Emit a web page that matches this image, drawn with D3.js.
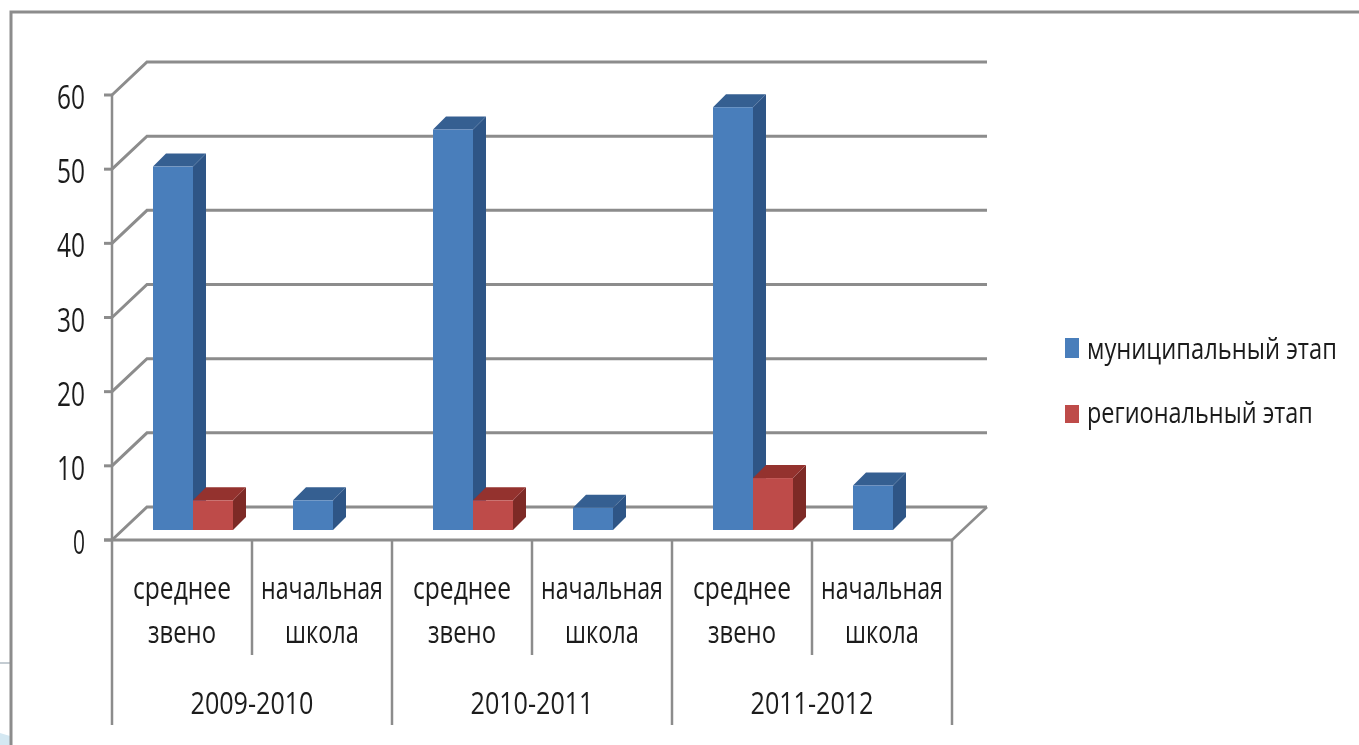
<!DOCTYPE html>
<html><head><meta charset="utf-8">
<script src="https://cdn.jsdelivr.net/npm/d3@7/dist/d3.min.js"></script>
<style>html,body{margin:0;padding:0;background:#fff;overflow:hidden}
text{font-family:"Open Sans",sans-serif;fill:#1a1a1a}</style></head>
<body><svg id="c" width="1359" height="745"></svg>
<script>
const years = ["2009-2010","2010-2011","2011-2012"];
const levels = ["среднее звено","начальная школа"];
const seriesNames = ["муниципальный этап","региональный этап"];
const municipal = [49,4,54,3,57,6];
const regional = [4,0,4,0,7,0];
const yTicks = [0,10,20,30,40,50,60];
const colors = ["#4a7ebb","#be4b48"], tops=["#365f91","#94302e"], sides=["#2f5486","#7d2a28"];

const svg=d3.select("#c");
const defs=svg.append("defs");
defs.append("filter").attr("id","soft").append("feGaussianBlur").attr("stdDeviation",0.55);
const root=svg.append("g").attr("filter","url(#soft)");
const grey="#8c8c8c";

// fit text horizontally to a measured width, anchored by "start", "middle" or "end"
function label(parent,str,x,y,size,width,anchor){
  const t=parent.append("text").attr("font-size",size).text(str);
  const sx=width/t.node().getComputedTextLength();
  t.attr("text-anchor",anchor).attr("transform",`translate(${x},${y}) scale(${sx},1)`);
  return t;
}

// page remnants and frame
root.append("path").attr("d","M0,745V733L10,736V745Z").attr("fill","#d4e8f2");
root.append("line").attr("x1",0).attr("x2",10).attr("y1",663).attr("y2",663).attr("stroke","#c4ccd2").attr("stroke-width",2);
root.append("path").attr("d","M11,745V12H1359").attr("fill","none").attr("stroke",grey).attr("stroke-width",3);

const y=d3.scaleLinear().domain([0,60]).range([540,95]);
const xGroup=d3.scaleBand().domain(years).range([112,952]);
const xCat=d3.scaleBand().domain(d3.range(6)).range([112,952]);
const dx=35, dy=-33, barLift=-10, bd=13;

// gridlines
const grid=root.append("g").attr("fill","none").attr("stroke",grey).attr("stroke-width",3);
yTicks.forEach(t=>{
  grid.append("path").attr("d",`M112,${y(t)}L${112+dx},${y(t)+dy}H987`);
});
grid.append("path").attr("d",`M952,540L987,${y(0)+dy}`).attr("stroke-width",2.5);

// y axis
const ax=root.append("g").attr("stroke",grey);
ax.append("line").attr("x1",112).attr("x2",112).attr("y1",y(60)).attr("y2",725).attr("stroke-width",2.5);
yTicks.forEach(t=>{
  ax.append("line").attr("x1",104).attr("x2",112).attr("y1",y(t)).attr("y2",y(t)).attr("stroke-width",3);
  label(root,String(t),85,y(t)+14,32,t?28:12,"end");
});
ax.append("line").attr("x1",104).attr("x2",953).attr("y1",540).attr("y2",540).attr("stroke-width",3);

// category separators
xCat.domain().forEach(i=>{
  const x=xCat(i)+xCat.step();
  ax.append("line").attr("x1",x).attr("x2",x).attr("y1",540).attr("y2",i%2==1?725:655).attr("stroke-width",2.5);
});

// bars
const barW=40;
function bar(g,i,s,v){
  if(!v) return;
  const x0=xCat(i)+41+s*barW, x1=x0+barW, yb=y(0)+barLift, yt=y(v)+barLift;
  g.append("path").attr("fill",sides[s]).attr("d",`M${x1},${yt}l${bd},${-bd}V${yb-bd}l${-bd},${bd}Z`);
  g.append("path").attr("fill",tops[s]).attr("d",`M${x0},${yt}l${bd},${-bd}H${x1+bd}l${-bd},${bd}Z`);
  g.append("rect").attr("x",x0).attr("y",yt).attr("width",barW).attr("height",yb-yt).attr("fill",colors[s]);
}
const barsG=root.append("g");
municipal.forEach((v,i)=>{bar(barsG,i,0,v);bar(barsG,i,1,regional[i]);});

// category labels
const lab=root.append("g");
d3.range(6).forEach(i=>{
  const cx=xCat(i)+xCat.step()/2;
  const words=levels[i%2].split(" ");
  const w=i%2?[122,74]:[98,68];
  words.forEach((wd,k)=>label(lab,wd,cx,k?643:599,31,w[k],"middle"));
});
years.forEach(yr=>{
  label(lab,yr,xGroup(yr)+xGroup.step()/2,714,31,123,"middle");
});

// legend
seriesNames.forEach((n,i)=>{
  root.append("rect").attr("x",1065).attr("y",[338,405][i]).attr("width",14).attr("height",[20,18][i]).attr("fill",colors[i]);
  label(root,n,1087,[359,423][i],30,i?226:250,"start");
});
</script></body></html>
